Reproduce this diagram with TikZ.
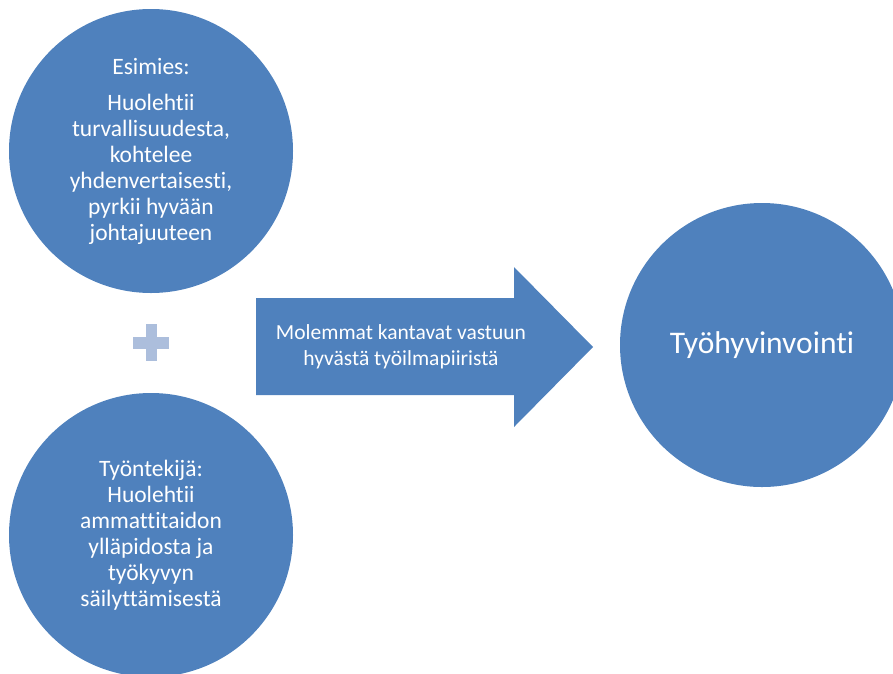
\documentclass[tikz,border=0pt]{standalone}
\usepackage{fontspec}
\setmainfont{Carlito}[RawFeature=-liga]
\definecolor{accentblue}{RGB}{79,129,189}
\definecolor{plusblue}{RGB}{172,190,220}
\tikzset{
  bigcircle/.style={circle, fill=accentblue, draw=none, minimum size=284pt, inner sep=0pt, text=white, align=center},
  bodytext/.style={font=\fontsize{23.5}{26}\selectfont},
}
\begin{document}
\begin{tikzpicture}[x=1pt, y=-1pt]
\useasboundingbox (0,0) rectangle (893,673);
\begin{scope}
\clip (0,0) rectangle (893,673);
\node[bigcircle, bodytext] (esimies) at (151,151) {Esimies:\\[10pt]Huolehtii\\turvallisuudesta,\\kohtelee\\yhdenvertaisesti,\\pyrkii hyvään\\johtajuuteen};
\node[bigcircle, bodytext] (tyontekija) at (151,535) {Työntekijä:\\Huolehtii\\ammattitaidon\\ylläpidosta ja\\työkyvyn\\säilyttämisestä};
\node[bigcircle, font=\fontsize{31.5}{37}\selectfont] (hyvinvointi) at (762,345) {Työhyvinvointi};
\end{scope}
\fill[plusblue] (146,324) rectangle (157,361);
\fill[plusblue] (133,337) rectangle (169,349);
\coordinate (plus) at (151,343);
\fill[accentblue] (256,298) -- (514,298) -- (514,267) -- (593,347) -- (514,427) -- (514,395) -- (256,395) -- cycle;
\node[text=white, align=center, font=\fontsize{21.5}{26}\selectfont] (vastuu) at (401,347) {Molemmat kantavat vastuun\\hyvästä työilmapiiristä};
\end{tikzpicture}
\end{document}
